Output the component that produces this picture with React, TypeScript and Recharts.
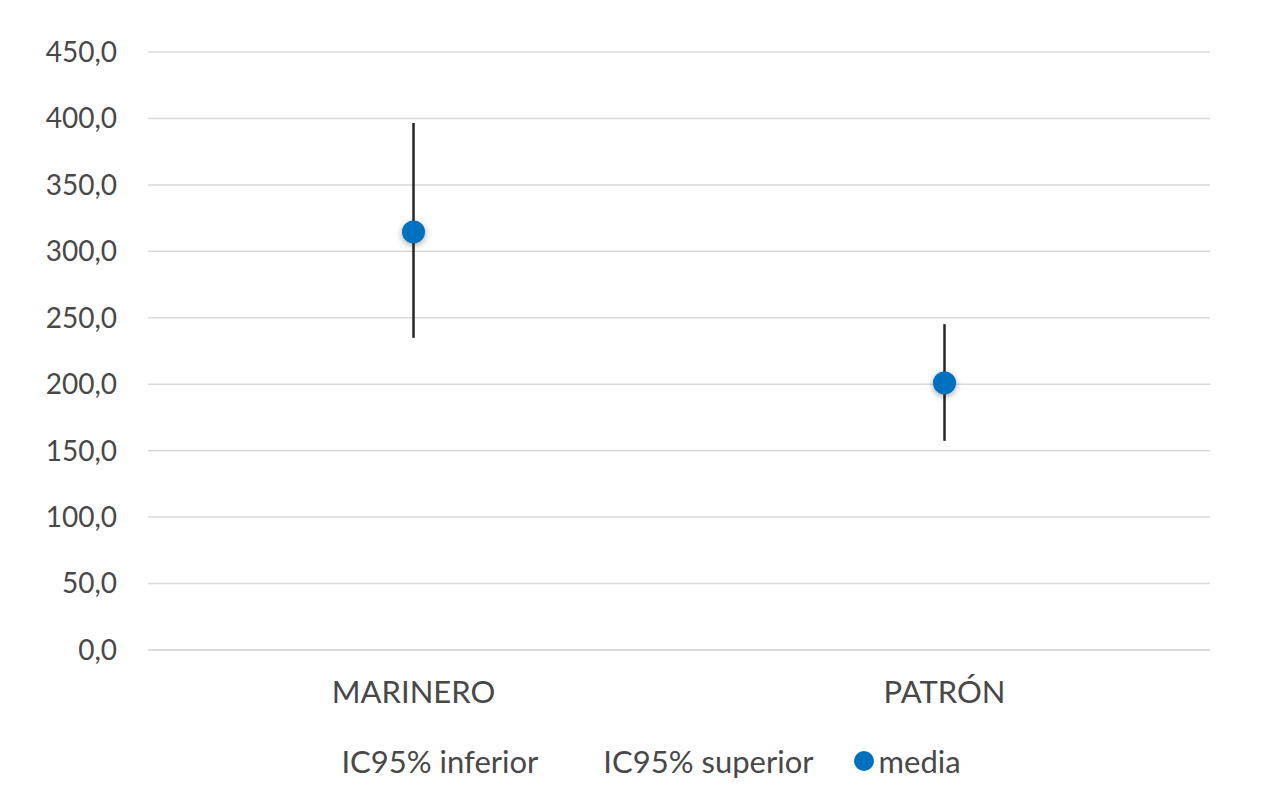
import React from 'react';
import { ComposedChart, Line, XAxis, YAxis, CartesianGrid, ErrorBar } from 'recharts';

const categories = ['MARINERO', 'PATRÓN'];
const inferior = [234.9, 157.4];
const superior = [396.6, 245.2];
const media = [314.6, 201.0];
const yTicks = [0, 50, 100, 150, 200, 250, 300, 350, 400, 450];
const seriesNames = ['IC95% inferior', 'IC95% superior', 'media'];

const data = categories.map((c, i) => ({
  cat: c,
  inferior: inferior[i],
  superior: superior[i],
  media: media[i],
  err: [media[i] - inferior[i], superior[i] - media[i]],
}));

const FONT = 'Lato, "Open Sans", sans-serif';
const TEXT = '#484848';
const BLUE = '#0070C0';

const fmt = (v: number) => v.toFixed(1).replace('.', ',');

const LegendContent = () => (
  <div
    style={{
      display: 'flex',
      justifyContent: 'center',
      alignItems: 'center',
      fontFamily: FONT,
      fontSize: 31,
      color: TEXT,
      gap: 40,
    }}
  >
    {seriesNames.map((n, i) => (
      <div key={n} style={{ display: 'flex', alignItems: 'center' }}>
        <svg width={20} height={20} style={{ marginRight: 5 }}>
          {i === 2 ? <circle cx={10} cy={10} r={10} fill={BLUE} /> : null}
        </svg>
        <span>{n}</span>
      </div>
    ))}
  </div>
);

export default function App() {
  return (
    <div style={{ position: 'relative', width: 1261, height: 780, fontFamily: FONT }}>
      <ComposedChart
        width={1261}
        height={780}
        data={data}
        margin={{ top: 44, right: 59, bottom: 78, left: 0 }}
      >
        <CartesianGrid vertical={false} stroke="#d9d9d9" strokeWidth={1.5} />
        <XAxis
          dataKey="cat"
          scale="band"
          height={60}
          axisLine={{ stroke: '#d9d9d9', strokeWidth: 1.5 }}
          tickLine={false}
          tickSize={6}
          tickMargin={25}
          tick={{ fill: TEXT, fontSize: 31, fontFamily: FONT }}
        />
        <YAxis
          width={140}
          domain={[0, 450]}
          ticks={yTicks}
          tickFormatter={fmt}
          axisLine={false}
          tickLine={false}
          tickSize={6}
          tickMargin={25}
          tick={{ fill: TEXT, fontSize: 28, fontFamily: FONT }}
        />
        <Line dataKey="inferior" name={seriesNames[0]} stroke="none" dot={false} activeDot={false} isAnimationActive={false} />
        <Line dataKey="superior" name={seriesNames[1]} stroke="none" dot={false} activeDot={false} isAnimationActive={false} />
        <Line
          dataKey="media"
          name={seriesNames[2]}
          stroke="none"
          isAnimationActive={false}
          activeDot={false}
          dot={{ r: 11.5, fill: BLUE, stroke: 'none', style: { filter: 'drop-shadow(0px 2px 3px rgba(0,0,0,0.35))' } }}
        >
          <ErrorBar dataKey="err" direction="y" width={0} stroke="#262626" strokeWidth={2.5} isAnimationActive={false} />
        </Line>
      </ComposedChart>
      <div style={{ position: 'absolute', top: 734, left: 0, width: 1261 }}>
        <LegendContent />
      </div>
    </div>
  );
}
